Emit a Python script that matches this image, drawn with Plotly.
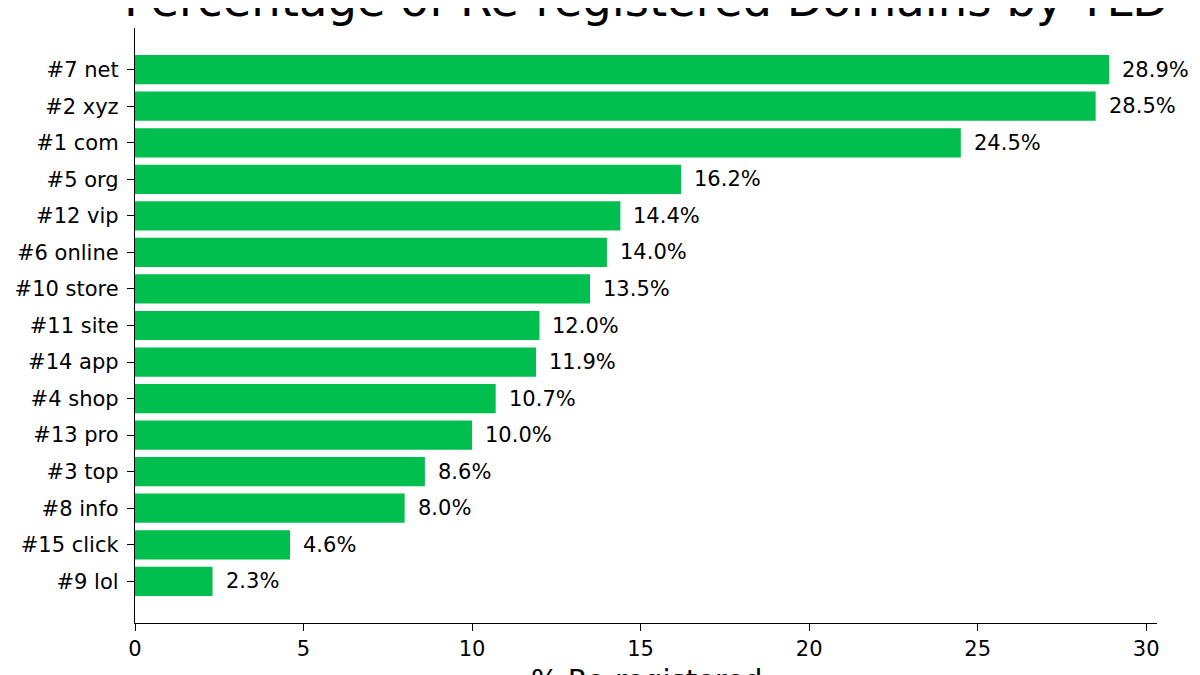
import plotly.graph_objects as go

labels = ["#7 net", "#2 xyz", "#1 com", "#5 org", "#12 vip", "#6 online", "#10 store",
          "#11 site", "#14 app", "#4 shop", "#13 pro", "#3 top", "#8 info", "#15 click", "#9 lol"]
values = [28.9, 28.5, 24.5, 16.2, 14.4, 14.0, 13.5, 12.0, 11.9, 10.7, 10.0, 8.6, 8.0, 4.6, 2.3]
x_ticks = [0, 5, 10, 15, 20, 25, 30]

FONT = "DejaVu Sans"
GREEN = "#00BF4E"
FS = 21

fig = go.Figure()
fig.add_trace(go.Bar(
    x=values, y=labels, orientation="h", width=0.8,
    marker=dict(color=GREEN, line=dict(width=0)),
    hoverinfo="skip",
))

for lab, v in zip(labels, values):
    fig.add_annotation(x=v, y=lab, text=f"{v:.1f}%", showarrow=False,
                       xanchor="left", yanchor="middle", xshift=11,
                       font=dict(family=FONT, size=FS, color="black"))

fig.add_annotation(xref="paper", yref="paper", x=0.5, y=1, yanchor="bottom", yshift=-1,
                   text="Percentage of Re-registered Domains by TLD", showarrow=False,
                   font=dict(family=FONT, size=46.5, color="black"))
fig.add_annotation(xref="paper", yref="paper", x=0.5, y=0, yanchor="top", yshift=-38,
                   text="% Re-registered", showarrow=False,
                   font=dict(family=FONT, size=29, color="black"))

n = len(labels)
fig.update_layout(
    width=1200, height=675,
    margin=dict(l=127, r=51, t=20, b=60, pad=0),
    plot_bgcolor="white", paper_bgcolor="white",
    showlegend=False,
    font=dict(family=FONT, size=FS, color="black"),
    xaxis=dict(range=[0, 30.32], tickvals=x_ticks, showgrid=False, zeroline=False,
               automargin=False,
               showline=True, linecolor="black", linewidth=1.3,
               ticks="outside", ticklen=7, tickwidth=1.2, tickcolor="black",
               tickfont=dict(family=FONT, size=FS, color="black")),
    yaxis=dict(range=[n - 1 + 0.4 + 0.74, -0.4 - 0.74], showgrid=False, zeroline=False,
               automargin=False,
               showline=True, linecolor="black", linewidth=1.3,
               ticks="outside", ticklen=7, tickwidth=1.2, tickcolor="black",
               ticklabelstandoff=4,
               tickfont=dict(family=FONT, size=FS, color="black")),
)

fig.write_html("out.html")
